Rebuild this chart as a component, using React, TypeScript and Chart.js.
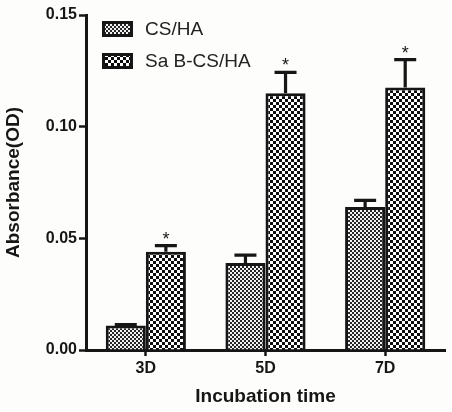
import React, { useEffect, useRef } from "react";
import { Chart, registerables } from "chart.js";

Chart.register(...registerables);

const categories = ["3D", "5D", "7D"];
const seriesLabels = ["CS/HA", "Sa B-CS/HA"];
const csHaValues = [0.011, 0.039, 0.064];
const csHaErrors = [0.0004, 0.0035, 0.003];
const saBValues = [0.044, 0.115, 0.1175];
const saBErrors = [0.0027, 0.0093, 0.0125];
const csHaMarks = ["", "", ""];
const saBMarks = ["*", "*", "*"];
const yTickValues = [0, 0.05, 0.1, 0.15];
const xTitle = "Incubation time";
const yTitle = "Absorbance(OD)";

const FONT = "'Liberation Sans', Arial, Helvetica, sans-serif";
const INK = "#161616";

function makeChecker(cell: number, fg: string, bg: string): CanvasPattern | string {
  const c = document.createElement("canvas");
  c.width = cell * 2;
  c.height = cell * 2;
  const g = c.getContext("2d");
  if (!g) return fg;
  g.fillStyle = bg;
  g.fillRect(0, 0, c.width, c.height);
  g.fillStyle = fg;
  g.fillRect(0, 0, cell, cell);
  g.fillRect(cell, cell, cell, cell);
  return g.createPattern(c, "repeat") || fg;
}

const bgPlugin = {
  id: "bgFill",
  beforeDraw(chart: any) {
    const { ctx, width, height } = chart;
    ctx.save();
    ctx.fillStyle = "#fdfdfb";
    ctx.fillRect(0, 0, width, height);
    ctx.restore();
  },
};

const errorBarPlugin = {
  id: "errorBars",
  afterDatasetsDraw(chart: any) {
    const ctx = chart.ctx;
    const yScale = chart.scales.y;
    chart.data.datasets.forEach((ds: any, di: number) => {
      const meta = chart.getDatasetMeta(di);
      meta.data.forEach((bar: any, i: number) => {
        const v = ds.data[i];
        const e = ds.errors ? ds.errors[i] : 0;
        const top = yScale.getPixelForValue(v);
        const capY = yScale.getPixelForValue(v + e);
        ctx.save();
        ctx.strokeStyle = INK;
        ctx.lineWidth = 3.2;
        ctx.lineCap = "butt";
        ctx.beginPath();
        ctx.moveTo(bar.x, top);
        ctx.lineTo(bar.x, capY);
        ctx.moveTo(bar.x - 11, capY);
        ctx.lineTo(bar.x + 11, capY);
        ctx.stroke();
        if (ds.marks && ds.marks[i]) {
          ctx.fillStyle = INK;
          ctx.font = `18px ${FONT}`;
          ctx.textAlign = "center";
          ctx.textBaseline = "alphabetic";
          ctx.fillText(ds.marks[i], bar.x, capY - 1);
        }
        ctx.restore();
      });
    });
  },
};

const legendPlugin = {
  id: "insideLegend",
  afterDraw(chart: any) {
    const ctx = chart.ctx;
    const x0 = 102;
    const y0 = 21;
    const rowGap = 32;
    chart.data.datasets.forEach((ds: any, i: number) => {
      const y = y0 + i * rowGap;
      ctx.save();
      ctx.fillStyle = ds.backgroundColor;
      ctx.fillRect(x0, y, 31, 16);
      ctx.strokeStyle = INK;
      ctx.lineWidth = 3;
      ctx.strokeRect(x0 + 1.5, y + 1.5, 28, 13);
      ctx.fillStyle = "#222";
      ctx.font = `19px ${FONT}`;
      ctx.textAlign = "left";
      ctx.textBaseline = "middle";
      ctx.fillText(ds.label, x0 + 43, y + 8.5);
      ctx.restore();
    });
  },
};

export default function App() {
  const canvasRef = useRef<HTMLCanvasElement | null>(null);

  useEffect(() => {
    const canvas = canvasRef.current;
    if (!canvas) return;
    const finePattern = makeChecker(2, "#262626", "#f2f2f2");
    const coarsePattern = makeChecker(3, "#0c0c0c", "#ffffff");

    const chart = new Chart(canvas, {
      type: "bar",
      data: {
        labels: categories,
        datasets: [
          {
            label: seriesLabels[0],
            data: csHaValues,
            errors: csHaErrors,
            marks: csHaMarks,
            backgroundColor: finePattern as any,
            borderColor: INK,
            borderWidth: 3,
          } as any,
          {
            label: seriesLabels[1],
            data: saBValues,
            errors: saBErrors,
            marks: saBMarks,
            backgroundColor: coarsePattern as any,
            borderColor: INK,
            borderWidth: 3,
          } as any,
        ],
      },
      options: {
        animation: false,
        responsive: false,
        maintainAspectRatio: false,
        layout: { padding: { top: 15, right: 7, bottom: 0, left: 0 } },
        plugins: {
          legend: { display: false },
          tooltip: { enabled: false },
        },
        datasets: {
          bar: {
            categoryPercentage: 0.67,
            barPercentage: 1,
          },
        },
        scales: {
          x: {
            offset: true,
            grid: {
              display: true,
              offset: false,
              drawOnChartArea: false,
              drawTicks: true,
              tickLength: 6,
              tickWidth: 2.5,
              tickColor: INK,
            },
            border: { display: true, color: INK, width: 3 },
            ticks: {
              color: INK,
              padding: 3,
              font: { family: FONT, size: 16, weight: "bold" },
            },
            title: {
              display: true,
              text: xTitle,
              color: INK,
              padding: { top: 0, bottom: 4 },
              font: { family: FONT, size: 19, weight: "bold" },
            },
            afterFit(scale: any) {
              scale.height = 62;
            },
          },
          y: {
            min: 0,
            max: 0.15,
            afterBuildTicks(scale: any) {
              scale.ticks = yTickValues.map((v) => ({ value: v }));
            },
            grid: {
              display: true,
              drawOnChartArea: false,
              drawTicks: true,
              tickLength: 7,
              tickWidth: 2.5,
              tickColor: INK,
            },
            border: { display: true, color: INK, width: 3 },
            ticks: {
              color: INK,
              padding: 2,
              font: { family: FONT, size: 16, weight: "bold" },
              callback: (v: any) => Number(v).toFixed(2),
            },
            title: {
              display: true,
              text: yTitle,
              color: INK,
              padding: { top: 2, bottom: 0 },
              font: { family: FONT, size: 19, weight: "bold" },
            },
            afterFit(scale: any) {
              scale.width = 86;
            },
          },
        },
      } as any,
      plugins: [bgPlugin, errorBarPlugin, legendPlugin],
    });

    return () => {
      chart.destroy();
    };
  }, []);

  return (
    <div style={{ position: "absolute", left: 0, top: 0, width: 452, height: 412 }}>
      <canvas ref={canvasRef} width={452} height={412} style={{ display: "block" }} />
    </div>
  );
}
